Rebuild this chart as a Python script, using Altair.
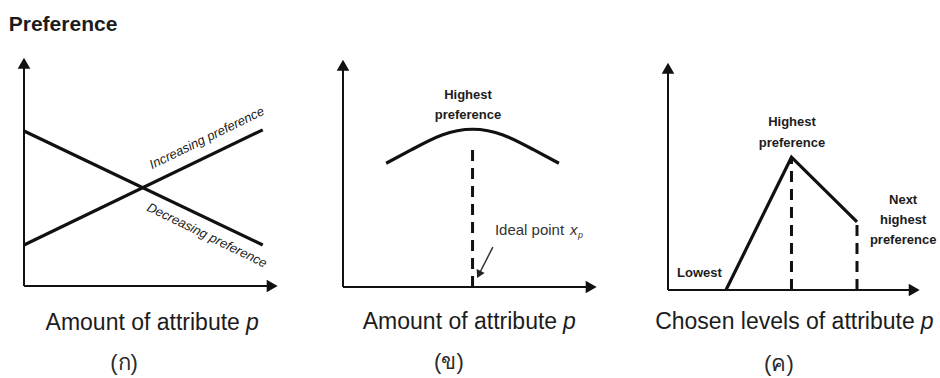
import altair as alt
import pandas as pd

# ---------------- values, in axis units (each axis arrow reaches 10) ----------------
# (ก) linear preference: straight lines across the attribute range
lin_x = [0.0, 9.4]
lin_increasing = [1.8, 6.85]
lin_decreasing = [6.8, 1.8]

# (ข) ideal-point preference: single-peaked curve
ideal_x = [1.7, 2.7, 3.9, 5.1, 6.3, 7.5, 8.5]
ideal_y = [5.45, 6.05, 6.7, 6.95, 6.7, 6.05, 5.45]
ideal_point = 5.1
ideal_drop_top = 6.26

# (ค) part-worth preference: piecewise levels
part_x = [2.3, 4.9, 7.5]
part_y = [0.0, 5.85, 3.0]

# labels
panel_tags = ["(ก)", "(ข)", "(ค)"]
x_titles = ["Amount of attribute", "Amount of attribute", "Chosen levels of attribute"]
attr_symbol = "p"

# ---------------- layout ----------------
H = 378
INK = "#111111"
TXT = "#1c1c1c"
FONT = "Liberation Sans"
AXIS_END = 9.77  # centre of each arrowhead; the tip reaches 10

# per-panel frame: width, origin (px inside panel), px per axis unit
panels = [
    dict(W=310, ox=24, oy=286, xs=25.4, ys=22.8),
    dict(W=310, ox=33, oy=287, xs=25.4, ys=22.7),
    dict(W=320, ox=48, oy=290, xs=25.2, ys=22.7),
]
for p in panels:
    p["xdom"] = [-p["ox"] / p["xs"], (p["W"] - p["ox"]) / p["xs"]]
    p["ydom"] = [-(H - p["oy"]) / p["ys"], p["oy"] / p["ys"]]


def X(p, field="x"):
    return alt.X(f"{field}:Q", scale=alt.Scale(domain=p["xdom"], nice=False, zero=False), axis=None)


def Y(p, field="y"):
    return alt.Y(f"{field}:Q", scale=alt.Scale(domain=p["ydom"], nice=False, zero=False), axis=None)


def base(p, rows):
    return alt.Chart(pd.DataFrame(rows))


def text_layer(p, rows, **kw):
    style = dict(font=FONT, color=TXT, fontSize=13, align="center", baseline="middle")
    style.update(kw)
    return base(p, rows).mark_text(**style).encode(x=X(p), y=Y(p), text="text:N")


def axes(p):
    rules = base(p, [
        {"x": 0, "y": 0, "x2": 0, "y2": AXIS_END},
        {"x": 0, "y": 0, "x2": AXIS_END, "y2": 0},
    ]).mark_rule(color=INK, strokeWidth=2).encode(x=X(p), y=Y(p), x2="x2:Q", y2="y2:Q")
    heads = base(p, [
        {"x": 0, "y": AXIS_END, "shape": "triangle-up"},
        {"x": AXIS_END, "y": 0, "shape": "triangle-right"},
    ]).mark_point(filled=True, size=160, color=INK, opacity=1).encode(
        x=X(p), y=Y(p), shape=alt.Shape("shape:N", scale=None)
    )
    return [rules, heads]


def x_title(p, i, split_x, y):
    left = text_layer(p, [{"x": split_x, "y": y, "text": x_titles[i]}],
                      fontSize=23, align="right", baseline="alphabetic")
    sym = text_layer(p, [{"x": split_x, "y": y, "text": attr_symbol}],
                     fontSize=23, fontStyle="italic", align="left", baseline="alphabetic", dx=6)
    return [left, sym]


def tag(p, i, x, y):
    return text_layer(p, [{"x": x, "y": y, "text": panel_tags[i]}],
                      fontSize=22, color="#2a2a2a", baseline="alphabetic")


# ---------------- (ก) ----------------
p = panels[0]
lin_rows = (
    [{"x": a, "y": b, "series": "increasing"} for a, b in zip(lin_x, lin_increasing)]
    + [{"x": a, "y": b, "series": "decreasing"} for a, b in zip(lin_x, lin_decreasing)]
)
lin_lines = base(p, lin_rows).mark_line(color=INK, strokeWidth=3.2).encode(
    x=X(p), y=Y(p), detail="series:N"
)
panel1 = alt.layer(
    *axes(p),
    lin_lines,
    text_layer(p, [{"x": -0.6, "y": 11.45, "text": "Preference"}],
               fontSize=21, fontWeight="bold", align="left"),
    text_layer(p, [{"x": 7.2, "y": 6.49, "text": "Increasing preference"}],
               fontSize=13, fontStyle="italic", angle=334),
    text_layer(p, [{"x": 7.2, "y": 2.22, "text": "Decreasing preference"}],
               fontSize=13, fontStyle="italic", angle=26),
    *x_title(p, 0, 8.5, -1.93),
    tag(p, 0, 3.94, -3.68),
).properties(width=p["W"], height=H)

# ---------------- (ข) ----------------
p = panels[1]
ideal_curve = base(p, [{"x": a, "y": b} for a, b in zip(ideal_x, ideal_y)]).mark_line(
    color=INK, strokeWidth=3.2, interpolate="natural"
).encode(x=X(p), y=Y(p))
ideal_drop = base(p, [{"x": ideal_point, "y": 0, "y2": ideal_drop_top}]).mark_rule(
    color=INK, strokeWidth=3, strokeDash=[11, 7]
).encode(x=X(p), y=Y(p), y2="y2:Q")
pointer = base(p, [{"x": 5.9, "y": 1.76, "x2": 5.35, "y2": 0.55}]).mark_rule(
    color="#333333", strokeWidth=1.5
).encode(x=X(p), y=Y(p), x2="x2:Q", y2="y2:Q")
pointer_head = base(p, [{"x": 5.35, "y": 0.55}]).mark_point(
    shape="triangle-up", filled=True, size=80, color="#222222", opacity=1, angle=207
).encode(x=X(p), y=Y(p))
panel2 = alt.layer(
    *axes(p),
    ideal_curve,
    ideal_drop,
    pointer,
    pointer_head,
    text_layer(p, [{"x": 4.92, "y": 8.46, "text": ["Highest", "preference"]}],
               fontSize=13, fontWeight="bold", lineHeight=20),
    text_layer(p, [{"x": 5.98, "y": 2.51, "text": "Ideal point"}],
               fontSize=15, color="#333333", align="left"),
    text_layer(p, [{"x": 5.98, "y": 2.51, "text": "x"}],
               fontSize=15, color="#333333", align="left", fontStyle="italic", dx=75),
    text_layer(p, [{"x": 5.98, "y": 2.51, "text": attr_symbol}],
               fontSize=9, color="#333333", align="left", fontStyle="italic", dx=83, dy=5),
    *x_title(p, 1, 8.43, -1.85),
    tag(p, 1, 4.17, -3.63),
).properties(width=p["W"], height=H)

# ---------------- (ค) ----------------
p = panels[2]
part_line = base(p, [{"x": a, "y": b} for a, b in zip(part_x, part_y)]).mark_line(
    color=INK, strokeWidth=3.2
).encode(x=X(p), y=Y(p))
part_drops = base(p, [{"x": a, "y": 0, "y2": b} for a, b in zip(part_x[1:], part_y[1:])]).mark_rule(
    color=INK, strokeWidth=3, strokeDash=[11, 7]
).encode(x=X(p), y=Y(p), y2="y2:Q")
panel3 = alt.layer(
    *axes(p),
    part_line,
    part_drops,
    text_layer(p, [{"x": 4.92, "y": 7.40, "text": ["Highest", "preference"]}],
               fontSize=13, fontWeight="bold", lineHeight=21),
    text_layer(p, [{"x": 0.36, "y": 0.75, "text": "Lowest"}],
               fontSize=13, fontWeight="bold", align="left"),
    text_layer(p, [{"x": 9.33, "y": 3.96, "text": ["Next", "highest", "preference"]}],
               fontSize=13, fontWeight="bold", lineHeight=20),
    *x_title(p, 2, 9.79, -1.72),
    tag(p, 2, 4.4, -3.55),
).properties(width=p["W"], height=H)

chart = (
    alt.hconcat(panel1, panel2, panel3, spacing=0, bounds="flush")
    .properties(padding=0, background="white")
    .configure_view(stroke=None)
)

chart.save("out.html", embed_options={"renderer": "svg", "actions": False})
